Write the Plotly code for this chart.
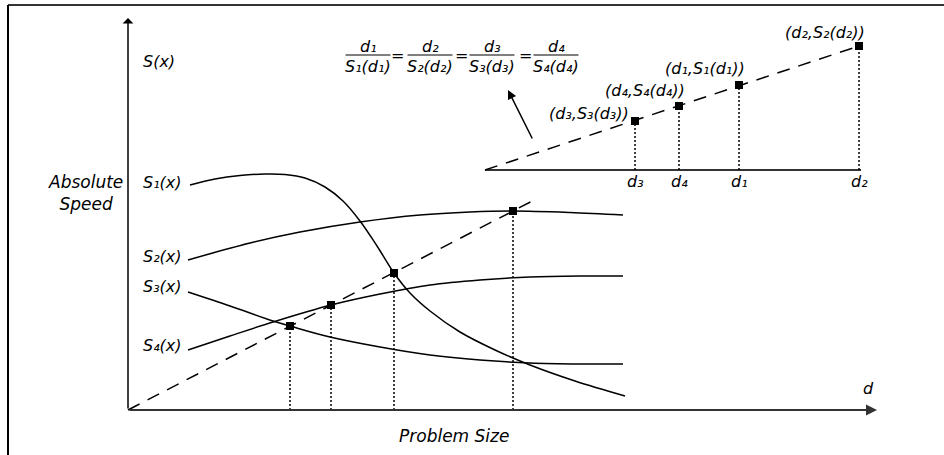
import plotly.graph_objects as go

# ---------------- data (chart units: origin at the main axes' corner) ----------------
s1_x = [62, 87, 112, 137, 157, 177, 197, 215, 232, 249, 266, 282, 302, 332, 367, 402, 447, 497]
s1_y = [225, 231, 234.5, 236, 235.5, 232, 223, 209, 189, 164, 137, 117, 99, 78, 60, 45, 29, 14]

s2_x = [60, 122, 172, 232, 292, 342, 385, 442, 495]
s2_y = [150, 167, 178, 188, 195, 198, 199, 197.5, 195]

s3_x = [60, 102, 145, 162, 202, 252, 302, 352, 402, 452, 495]
s3_y = [118, 104, 89, 84, 73, 63, 55, 50, 47, 46, 46]

s4_x = [60, 102, 145, 203, 252, 302, 352, 402, 452, 495]
s4_y = [60, 74, 88, 105, 116, 125, 130, 133, 134, 134]

curve_labels = ["S₁(x)", "S₂(x)", "S₃(x)", "S₄(x)"]
curve_label_y = [228, 154, 124, 65]

# equal-efficiency points (d3, d4, d1, d2) on S3, S4, S1, S2
point_d = [162, 203, 266, 385]
point_s = [84, 105, 137, 199]
dash_end_x = 407

# inset
inset_origin = (357, 240)
inset_end_x = 733
inset_x = [507, 551, 611, 731]
inset_y = [289, 304, 325, 364]
inset_tick_labels = ["d₃", "d₄", "d₁", "d₂"]
inset_point_labels = ["(d₃,S₃(d₃))", "(d₄,S₄(d₄))", "(d₁,S₁(d₁))", "(d₂,S₂(d₂))"]
inset_label_pos = [(461, 297), (517, 320), (577, 342), (697, 378)]

# formula
frac_num = ["d₁", "d₂", "d₃", "d₄"]
frac_den = ["S₁(d₁)", "S₂(d₂)", "S₃(d₃)", "S₄(d₄)"]
frac_cx = [240, 302, 364, 428]
eq_cx = [269, 333, 397]
frac_bar_y = 355

FONT = "DejaVu Sans"
fig = go.Figure()

line_style = dict(color="black", width=1.5, shape="spline", smoothing=1)
for xs, ys in [(s1_x, s1_y), (s2_x, s2_y), (s3_x, s3_y), (s4_x, s4_y)]:
    fig.add_trace(go.Scatter(x=xs, y=ys, mode="lines", line=line_style,
                             hoverinfo="skip", showlegend=False))

# dashed proportional line (main)
slope = sum(s / d for s, d in zip(point_s, point_d)) / len(point_d)
fig.add_trace(go.Scatter(x=[0, dash_end_x], y=[0, slope * dash_end_x], mode="lines",
                         line=dict(color="black", width=1.5, dash="13px,9px"),
                         hoverinfo="skip", showlegend=False))

# dotted verticals (main)
vx, vy = [], []
for d, s in zip(point_d, point_s):
    vx += [d, d, None]
    vy += [0, s, None]
fig.add_trace(go.Scatter(x=vx, y=vy, mode="lines",
                         line=dict(color="black", width=1.5, dash="2px,2px"),
                         hoverinfo="skip", showlegend=False))
fig.add_trace(go.Scatter(x=point_d, y=point_s, mode="markers",
                         marker=dict(symbol="square", size=8, color="black"),
                         hoverinfo="skip", showlegend=False))

# inset
ox, oy = inset_origin
fig.add_trace(go.Scatter(x=[ox, inset_end_x], y=[oy, oy], mode="lines",
                         line=dict(color="#333", width=2), hoverinfo="skip", showlegend=False))
fig.add_trace(go.Scatter(x=[ox, inset_x[-1]], y=[oy, inset_y[-1]], mode="lines",
                         line=dict(color="black", width=1.5, dash="13px,9px"),
                         hoverinfo="skip", showlegend=False))
ix, iy = [], []
for x, y in zip(inset_x, inset_y):
    ix += [x, x, None]
    iy += [oy, y, None]
fig.add_trace(go.Scatter(x=ix, y=iy, mode="lines",
                         line=dict(color="black", width=1.5, dash="2px,2px"),
                         hoverinfo="skip", showlegend=False))
fig.add_trace(go.Scatter(x=inset_x, y=inset_y, mode="markers",
                         marker=dict(symbol="square", size=8, color="black"),
                         hoverinfo="skip", showlegend=False))

ann = []
def txt(x, y, t, xanchor="center", yanchor="middle", size=16):
    ann.append(dict(x=x, y=y, text="<i>" + t + "</i>", showarrow=False,
                    xanchor=xanchor, yanchor=yanchor,
                    font=dict(family=FONT, size=size, color="black")))

# axes arrows
ann.append(dict(x=0, y=392, ax=0, ay=0, xref="x", yref="y", axref="x", ayref="y",
                showarrow=True, arrowhead=1, arrowsize=1.2, arrowwidth=1.5,
                arrowcolor="black", text=""))
ann.append(dict(x=749, y=0, ax=0, ay=0, xref="x", yref="y", axref="x", ayref="y",
                showarrow=True, arrowhead=2, arrowsize=1.1, arrowwidth=2,
                arrowcolor="#333", text=""))
# inset arrow to formula
ann.append(dict(x=380, y=320, ax=405, ay=270, xref="x", yref="y", axref="x", ayref="y",
                showarrow=True, arrowhead=2, arrowsize=1.2, arrowwidth=1.5,
                arrowcolor="black", text=""))

txt(31, 349, "S(x)")
txt(740, 22, "d")
txt(326, -26, "Problem Size", size=17)
ann.append(dict(x=-43, y=217, text="<i>Absolute<br>Speed</i>", showarrow=False,
                align="center", font=dict(family=FONT, size=17, color="black")))
for lab, y in zip(curve_labels, curve_label_y):
    txt(34, y, lab)
for lab, x in zip(inset_tick_labels, inset_x):
    txt(x, oy - 11, lab)
for lab, (x, y) in zip(inset_point_labels, inset_label_pos):
    txt(x, y, lab)

shapes = []
for n, d, cx in zip(frac_num, frac_den, frac_cx):
    txt(cx, frac_bar_y + 9, n)
    txt(cx, frac_bar_y - 11, d)
    shapes.append(dict(type="line", xref="x", yref="y", x0=cx - 22.5, x1=cx + 22.5,
                       y0=frac_bar_y, y1=frac_bar_y, line=dict(color="black", width=1)))
for cx in eq_cx:
    ann.append(dict(x=cx, y=frac_bar_y, text="=", showarrow=False,
                    font=dict(family=FONT, size=16, color="black")))

# frame
shapes.append(dict(type="line", xref="paper", yref="paper", x0=8 / 944, x1=1,
                   y0=1 - 5 / 455, y1=1 - 5 / 455, line=dict(color="#333", width=2)))
shapes.append(dict(type="line", xref="paper", yref="paper", x0=8 / 944, x1=8 / 944,
                   y0=0, y1=1 - 5 / 455, line=dict(color="black", width=2)))

fig.update_layout(
    width=944, height=455, margin=dict(l=0, r=0, t=0, b=0),
    paper_bgcolor="white", plot_bgcolor="white",
    xaxis=dict(range=[-128, 816], visible=False, fixedrange=True),
    yaxis=dict(range=[-45, 410], visible=False, fixedrange=True),
    annotations=ann, shapes=shapes, showlegend=False,
)
fig.write_html("out.html")
